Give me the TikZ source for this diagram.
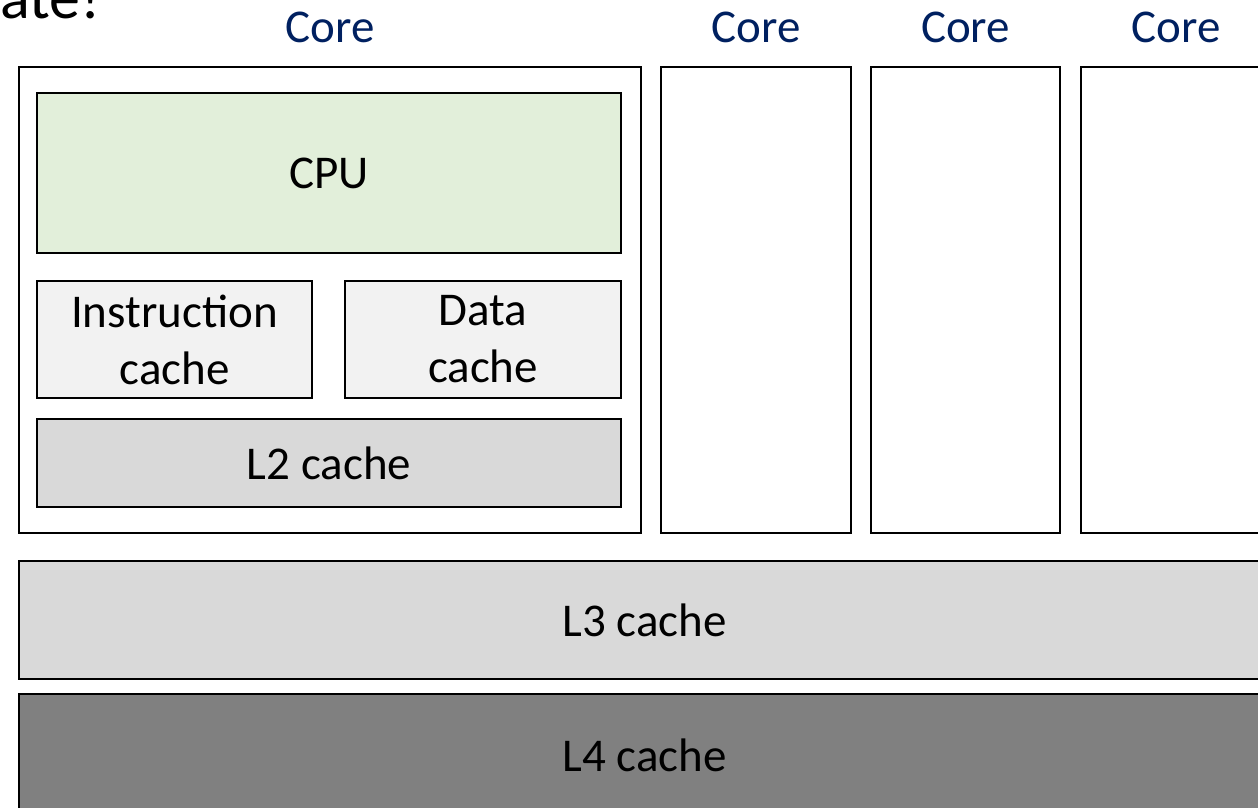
\documentclass[tikz,border=0pt]{standalone}
\usepackage{fontspec}
\setmainfont{Carlito}
\definecolor{corelabel}{HTML}{002060}
\definecolor{cpufill}{HTML}{E2EFDA}
\definecolor{l1fill}{HTML}{F2F2F2}
\definecolor{l2fill}{HTML}{D9D9D9}
\definecolor{l3fill}{HTML}{D9D9D9}
\definecolor{l4fill}{HTML}{808080}
\tikzset{
  unit/.style={draw=black, line width=2.5pt, rectangle, inner sep=0pt,
    font=\fontsize{47}{57}\selectfont, align=center},
  corelbl/.style={text=corelabel, font=\fontsize{47}{57}\selectfont, anchor=base}
}
\begin{document}
\begin{tikzpicture}[x=1pt,y=-1pt]
  \useasboundingbox (0,0) rectangle (1258,807);
  \clip (0,0) rectangle (1258,807);

  % tail of the slide title, running off the top edge
  \node[anchor=base west, inner sep=0pt, font=\fontsize{62}{70}\selectfont] (title) at (0,18) {ate!};

  % core labels
  \node[corelbl] (lbl1) at (330,42) {Core};
  \node[corelbl] (lbl2) at (756,42) {Core};
  \node[corelbl] (lbl3) at (965.5,42) {Core};
  \node[corelbl] (lbl4) at (1176,42) {Core};

  % first core, shown in detail
  \node[unit, fill=white, minimum width=622pt, minimum height=466pt] (core1) at (330,300) {};
  \node[unit, fill=cpufill, minimum width=584pt, minimum height=160pt] (cpu) at (329,173) {CPU};
  \node[unit, fill=l1fill, minimum width=275pt, minimum height=117pt] (icache) at (174.5,339.5) {Instruction\\cache};
  \node[unit, fill=l1fill, minimum width=276pt, minimum height=117pt] (dcache) at (483,339.5) {Data\\cache};
  \node[unit, fill=l2fill, minimum width=584pt, minimum height=88pt] (l2) at (329,463) {L2 cache};

  % remaining cores
  \node[unit, fill=white, minimum width=190pt, minimum height=466pt] (core2) at (756,300) {};
  \node[unit, fill=white, minimum width=189pt, minimum height=466pt] (core3) at (965.5,300) {};
  \node[unit, fill=white, minimum width=190pt, minimum height=466pt] (core4) at (1176,300) {};

  % shared caches
  \node[unit, fill=l3fill, minimum width=1251pt, minimum height=118pt] (l3) at (644.5,620) {L3 cache};
  \node[unit, fill=l4fill, minimum width=1251pt, minimum height=122pt] (l4) at (644.5,755) {L4 cache};
\end{tikzpicture}
\end{document}
